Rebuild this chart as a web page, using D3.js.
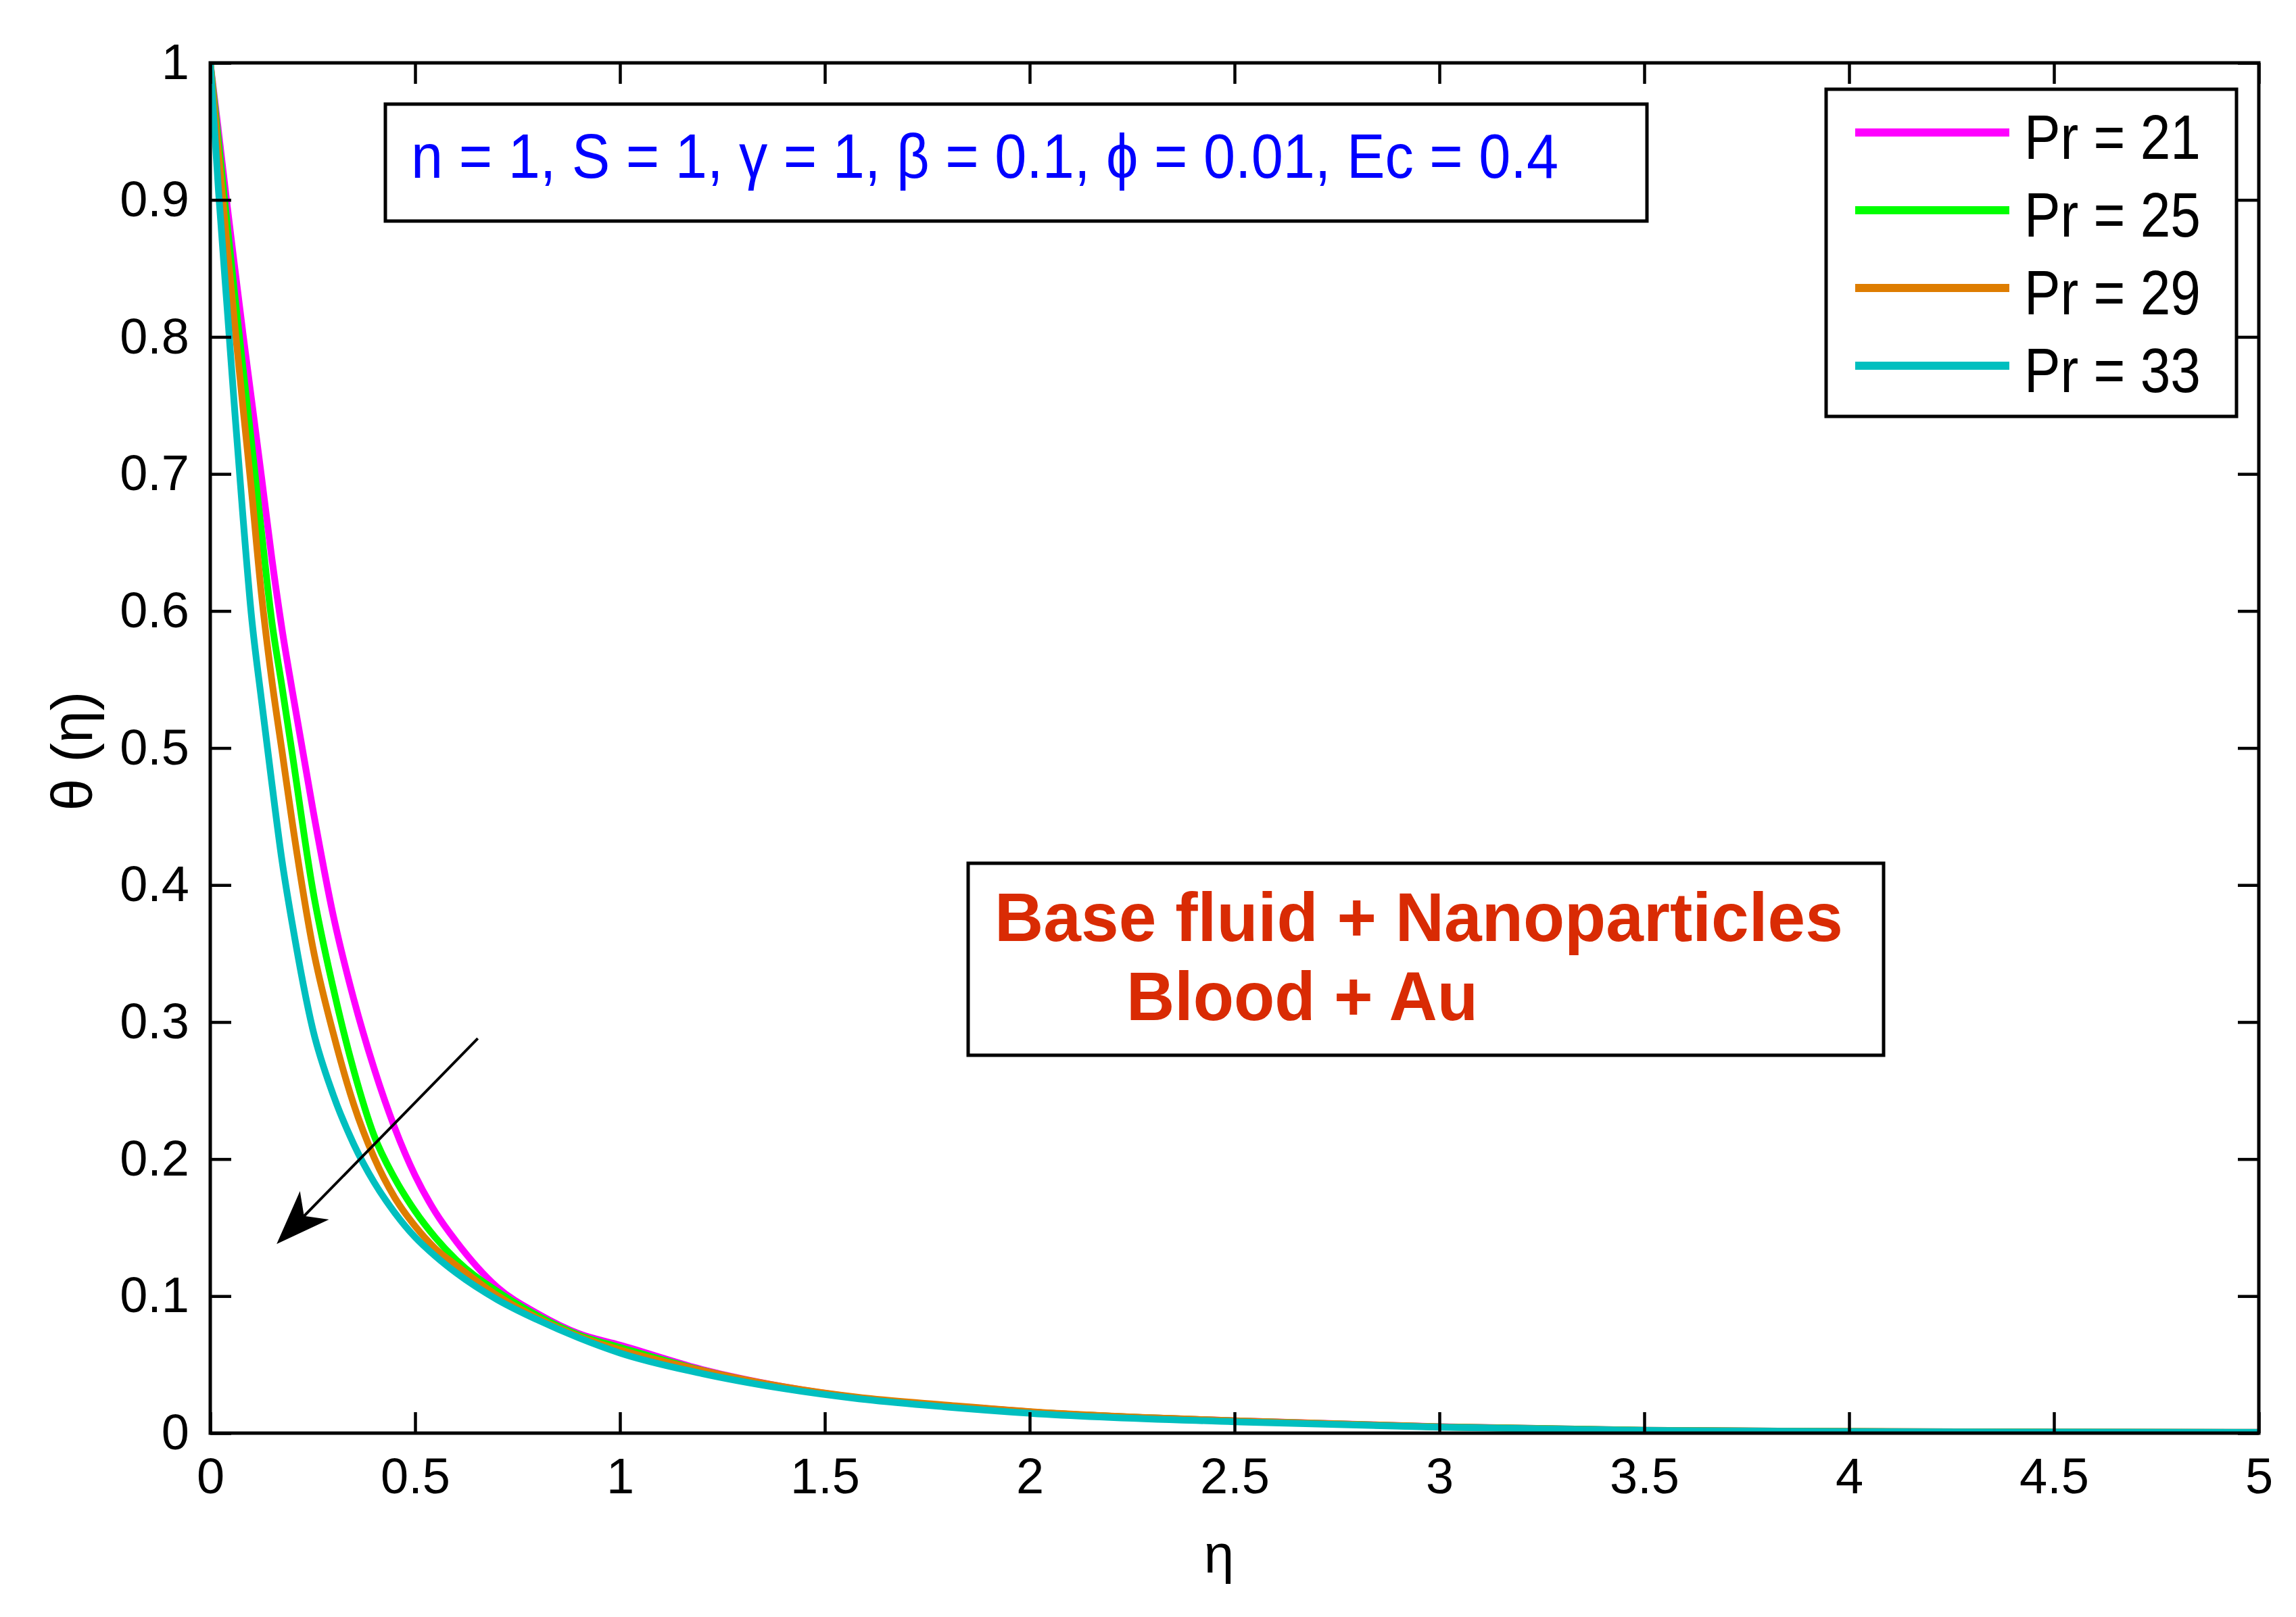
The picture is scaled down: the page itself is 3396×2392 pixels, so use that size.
<!DOCTYPE html>
<html>
<head>
<meta charset="utf-8">
<script src="https://cdnjs.cloudflare.com/ajax/libs/d3/7.8.5/d3.min.js"></script>
<style>
  body { margin: 0; background: #fff; }
  text { font-family: "Liberation Sans", Arial, sans-serif; }
</style>
</head>
<body>
<script>
// eta grid shared by all four curves
const eta = [0, 0.02, 0.04, 0.06, 0.08, 0.1, 0.125, 0.15, 0.175, 0.2, 0.25, 0.3, 0.35, 0.4, 0.45,
             0.5, 0.55, 0.6, 0.7, 0.8, 0.9, 1.0, 1.2, 1.4, 1.6, 1.8, 2.0, 2.5, 3.0, 3.5, 4.0, 4.5, 5.0];

const thetaPr21 = [1, 0.950, 0.899, 0.850, 0.802, 0.756, 0.698, 0.639, 0.587, 0.542, 0.456, 0.378, 0.317, 0.266, 0.223,
                   0.188, 0.161, 0.140, 0.1066, 0.087, 0.0725, 0.0642, 0.0465, 0.0338, 0.0252, 0.0200, 0.0155, 0.0090, 0.0047, 0.0021, 0.0012, 0.0008, 0.0006];
const thetaPr25 = [1, 0.943, 0.886, 0.830, 0.777, 0.725, 0.658, 0.593, 0.545, 0.496, 0.397, 0.325, 0.265, 0.217, 0.186,
                   0.162, 0.1425, 0.1265, 0.1035, 0.0855, 0.0715, 0.0625, 0.0458, 0.0334, 0.0250, 0.0199, 0.0154, 0.0089, 0.0046, 0.0021, 0.0012, 0.0008, 0.0006];
const thetaPr29 = [1, 0.934, 0.870, 0.808, 0.748, 0.690, 0.612, 0.550, 0.498, 0.446, 0.355, 0.292, 0.240, 0.201, 0.172,
                   0.151, 0.1345, 0.1225, 0.1005, 0.0838, 0.0705, 0.0608, 0.0457, 0.0338, 0.0255, 0.0204, 0.0157, 0.0090, 0.0046, 0.0020, 0.0012, 0.0008, 0.0005];
const thetaPr33 = [1, 0.907, 0.826, 0.745, 0.668, 0.598, 0.535, 0.475, 0.418, 0.372, 0.295, 0.247, 0.211, 0.183, 0.161,
                   0.143, 0.129, 0.117, 0.0975, 0.0825, 0.0695, 0.0585, 0.0435, 0.0325, 0.0245, 0.0190, 0.0145, 0.0083, 0.0043, 0.0020, 0.0011, 0.0007, 0.0005];

const prValues = [21, 25, 29, 33];
const lineColors = ["#ff00ff", "#00ff00", "#de7d00", "#00bfbf"];

const xTicks = [0, 0.5, 1, 1.5, 2, 2.5, 3, 3.5, 4, 4.5, 5];
const yTicks = [0, 0.1, 0.2, 0.3, 0.4, 0.5, 0.6, 0.7, 0.8, 0.9, 1];

const paramText = "n = 1, S = 1, \u03B3 = 1, \u03B2 = 0.1, \u03D5 = 0.01, Ec = 0.4";
const fluidLines = ["Base fluid + Nanoparticles", "Blood + Au"];

// arrow annotation, in data units (tail -> head)
const arrowFrom = [0.653, 0.288];
const arrowTo = [0.162, 0.138];

const thetaSets = [thetaPr21, thetaPr25, thetaPr29, thetaPr33];
const series = prValues.map((pr, i) => ({
  label: "Pr = " + pr,
  color: lineColors[i],
  values: eta.map((e, j) => [e, thetaSets[i][j]])
}));

const width = 3396, height = 2392;
const x = d3.scaleLinear().domain([0, 5]).range([311, 3341]);
const y = d3.scaleLinear().domain([0, 1]).range([2120, 93]);

const svg = d3.select("body").append("svg")
    .attr("width", width)
    .attr("height", height)
    .style("display", "block")
    .style("background", "#fff");

svg.append("defs").append("clipPath").attr("id", "plotclip")
  .append("rect")
    .attr("x", x(0)).attr("y", y(1))
    .attr("width", x(5) - x(0)).attr("height", y(0) - y(1));

// curves
const line = d3.line()
    .x(d => x(d[0]))
    .y(d => y(d[1]))
    .curve(d3.curveMonotoneX);

svg.append("g").attr("clip-path", "url(#plotclip)")
  .selectAll("path")
  .data(series)
  .enter().append("path")
    .attr("d", d => line(d.values))
    .attr("fill", "none")
    .attr("stroke", d => d.color)
    .attr("stroke-width", 10)
    .attr("stroke-linejoin", "round");

// axes, ticks pointing inward on all four sides
function styleAxis(g) {
  g.select(".domain").remove();
  g.attr("font-size", 74).attr("font-family", "Liberation Sans, Arial, sans-serif");
  g.selectAll(".tick line").attr("stroke", "#000").attr("stroke-width", 4.5);
  g.selectAll(".tick text").attr("fill", "#000");
}

svg.append("g")
    .attr("transform", `translate(0,${y(0)})`)
    .call(d3.axisBottom(x).tickValues(xTicks).tickFormat(d3.format("~g"))
      .tickSizeInner(-31).tickSizeOuter(0).tickPadding(36))
    .call(styleAxis);

svg.append("g")
    .attr("transform", `translate(${x(0)},0)`)
    .call(d3.axisLeft(y).tickValues(yTicks).tickFormat(d3.format("~g"))
      .tickSizeInner(-31).tickSizeOuter(0).tickPadding(31))
    .call(styleAxis);

svg.append("g")
    .attr("transform", `translate(0,${y(1)})`)
    .call(d3.axisTop(x).tickValues(xTicks).tickFormat("").tickSizeInner(-31).tickSizeOuter(0))
    .call(styleAxis);

svg.append("g")
    .attr("transform", `translate(${x(5)},0)`)
    .call(d3.axisRight(y).tickValues(yTicks).tickFormat("").tickSizeInner(-31).tickSizeOuter(0))
    .call(styleAxis);

svg.append("rect")
    .attr("x", x(0)).attr("y", y(1))
    .attr("width", x(5) - x(0)).attr("height", y(0) - y(1))
    .attr("fill", "none").attr("stroke", "#000").attr("stroke-width", 5);

// axis titles
svg.append("text")
    .attr("x", 1803).attr("y", 2326)
    .attr("text-anchor", "middle")
    .attr("font-size", 80)
    .text("\u03B7");

svg.append("text")
    .attr("transform", "translate(136,1111) rotate(-90)")
    .attr("text-anchor", "middle")
    .attr("font-size", 86)
    .text("\u03B8 (\u03B7)");

// parameter box
svg.append("rect")
    .attr("x", 570).attr("y", 154).attr("width", 1866).attr("height", 173)
    .attr("fill", "#fff").attr("stroke", "#000").attr("stroke-width", 5);
svg.append("text")
    .attr("x", 608).attr("y", 263)
    .attr("font-size", 92)
    .attr("fill", "#0000ff")
    .attr("textLength", 1697)
    .attr("lengthAdjust", "spacingAndGlyphs")
    .text(paramText);

// legend
const legend = svg.append("g");
legend.append("rect")
    .attr("x", 2701).attr("y", 132).attr("width", 607).attr("height", 484)
    .attr("fill", "#fff").attr("stroke", "#000").attr("stroke-width", 5);
const item = legend.selectAll("g.item")
  .data(series)
  .enter().append("g")
    .attr("class", "item")
    .attr("transform", (d, i) => `translate(0,${196 + i * 115})`);
item.append("line")
    .attr("x1", 2744).attr("x2", 2972)
    .attr("stroke", d => d.color)
    .attr("stroke-width", 12);
item.append("text")
    .attr("x", 2994).attr("y", 39)
    .attr("font-size", 92)
    .attr("textLength", 261)
    .attr("lengthAdjust", "spacingAndGlyphs")
    .text(d => d.label);

// base fluid box
svg.append("rect")
    .attr("x", 1432).attr("y", 1277).attr("width", 1354).attr("height", 284)
    .attr("fill", "#fff").attr("stroke", "#000").attr("stroke-width", 5);
svg.append("text")
    .attr("x", 1471).attr("y", 1392)
    .attr("font-size", 102).attr("font-weight", "bold")
    .attr("fill", "#d92b04")
    .attr("textLength", 1255).attr("lengthAdjust", "spacingAndGlyphs")
    .text(fluidLines[0]);
svg.append("text")
    .attr("x", 1666).attr("y", 1509)
    .attr("font-size", 102).attr("font-weight", "bold")
    .attr("fill", "#d92b04")
    .attr("textLength", 520).attr("lengthAdjust", "spacingAndGlyphs")
    .text(fluidLines[1]);

// arrow
const ax0 = x(arrowFrom[0]), ay0 = y(arrowFrom[1]);
const ax1 = x(arrowTo[0]), ay1 = y(arrowTo[1]);
const len = Math.hypot(ax0 - ax1, ay0 - ay1);
const ux = (ax0 - ax1) / len, uy = (ay0 - ay1) / len;
const px = -uy, py = ux;
const headLen = 80, headHalf = 30, notch = 58;

svg.append("line")
    .attr("x1", ax0).attr("y1", ay0)
    .attr("x2", ax1 + ux * notch).attr("y2", ay1 + uy * notch)
    .attr("stroke", "#000").attr("stroke-width", 4);
svg.append("path")
    .attr("d", d3.line()([
      [ax1, ay1],
      [ax1 + ux * headLen + px * headHalf, ay1 + uy * headLen + py * headHalf],
      [ax1 + ux * notch, ay1 + uy * notch],
      [ax1 + ux * headLen - px * headHalf, ay1 + uy * headLen - py * headHalf]
    ]) + "Z")
    .attr("fill", "#000");
</script>
</body>
</html>
